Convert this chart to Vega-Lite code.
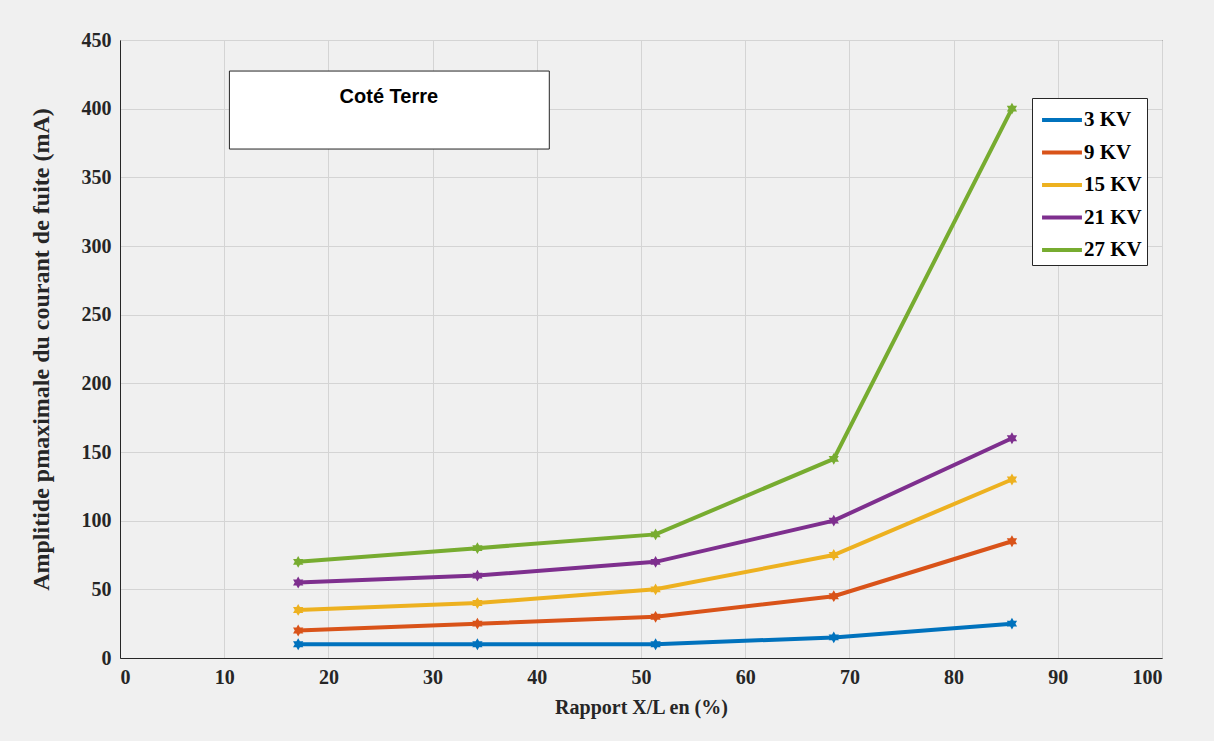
{
  "$schema": "https://vega.github.io/schema/vega-lite/v6.json",
  "width": 1042,
  "height": 618,
  "autosize": {"type": "none"},
  "padding": {"left": 120, "top": 40, "right": 52, "bottom": 83},
  "background": "#f0f0f0",
  "config": {
    "view": {"stroke": "#262626", "strokeWidth": 1, "fill": "#f0f0f0"},
    "axis": {
      "labelFont": "Liberation Serif", "labelFontWeight": "bold", "labelFontSize": 20, "labelColor": "#262626",
      "titleFont": "Liberation Serif", "titleFontWeight": "bold", "titleFontSize": 20, "titleColor": "#262626",
      "gridColor": "#d4d4d4", "gridWidth": 1, "domainColor": "#262626",
      "ticks": false, "labelPadding": 9
    }
  },
  "layer": [
    {
      "data": {"values": [
        {"x": 17.1, "y": 10, "s": "3 KV"}, {"x": 34.3, "y": 10, "s": "3 KV"}, {"x": 51.4, "y": 10, "s": "3 KV"}, {"x": 68.5, "y": 15, "s": "3 KV"}, {"x": 85.6, "y": 25, "s": "3 KV"},
        {"x": 17.1, "y": 20, "s": "9 KV"}, {"x": 34.3, "y": 25, "s": "9 KV"}, {"x": 51.4, "y": 30, "s": "9 KV"}, {"x": 68.5, "y": 45, "s": "9 KV"}, {"x": 85.6, "y": 85, "s": "9 KV"},
        {"x": 17.1, "y": 35, "s": "15 KV"}, {"x": 34.3, "y": 40, "s": "15 KV"}, {"x": 51.4, "y": 50, "s": "15 KV"}, {"x": 68.5, "y": 75, "s": "15 KV"}, {"x": 85.6, "y": 130, "s": "15 KV"},
        {"x": 17.1, "y": 55, "s": "21 KV"}, {"x": 34.3, "y": 60, "s": "21 KV"}, {"x": 51.4, "y": 70, "s": "21 KV"}, {"x": 68.5, "y": 100, "s": "21 KV"}, {"x": 85.6, "y": 160, "s": "21 KV"},
        {"x": 17.1, "y": 70, "s": "27 KV"}, {"x": 34.3, "y": 80, "s": "27 KV"}, {"x": 51.4, "y": 90, "s": "27 KV"}, {"x": 68.5, "y": 145, "s": "27 KV"}, {"x": 85.6, "y": 400, "s": "27 KV"}
      ]},
      "mark": {"type": "line", "strokeWidth": 4, "point": {"shape": "M0,-1L0.29,-0.5L0.87,-0.5L0.58,0L0.87,0.5L0.29,0.5L0,1L-0.29,0.5L-0.87,0.5L-0.58,0L-0.87,-0.5L-0.29,-0.5Z", "size": 140, "filled": true}},
      "encoding": {
        "x": {"field": "x", "type": "quantitative", "scale": {"domain": [0, 100], "nice": false},
              "axis": {"title": "Rapport X/L en (%)", "values": [0,10,20,30,40,50,60,70,80,90,100], "titlePadding": 10}},
        "y": {"field": "y", "type": "quantitative", "scale": {"domain": [0, 450], "nice": false},
              "axis": {"title": "Amplitide pmaximale du courant de fuite (mA)", "titleFontSize": 24, "values": [0,50,100,150,200,250,300,350,400,450], "titlePadding": 28}},
        "color": {"field": "s", "type": "nominal", "sort": ["3 KV", "9 KV", "15 KV", "21 KV", "27 KV"],
          "scale": {"domain": ["3 KV", "9 KV", "15 KV", "21 KV", "27 KV"], "range": ["#0072BD", "#D95319", "#EDB120", "#7E2F8E", "#77AC30"]},
          "legend": {"title": null, "orient": "none", "legendX": 912, "legendY": 58, "padding": 5,
            "fillColor": "white", "strokeColor": "#262626", "labelFont": "Liberation Serif", "labelFontWeight": "bold",
            "labelFontSize": 21, "labelColor": "#000000", "labelOffset": 5, "symbolOffset": 8,
            "symbolType": "M-1.33,0H1.33", "symbolStrokeWidth": 4, "symbolSize": 900, "rowPadding": 5.5}}
      }
    },
    {
      "data": {"values": [{"x1": 10.5, "x2": 41.2, "y1": 370.6, "y2": 427.4, "label": "Coté Terre", "tx": 25.8, "ty": 408.5}]},
      "layer": [
        {"mark": {"type": "rect", "fill": "white", "stroke": "#262626", "strokeWidth": 1},
         "encoding": {"x": {"field": "x1", "type": "quantitative"}, "x2": {"field": "x2"}, "y": {"field": "y1", "type": "quantitative"}, "y2": {"field": "y2"}}},
        {"mark": {"type": "text", "font": "Liberation Sans", "fontWeight": "bold", "fontSize": 20, "color": "#000000"},
         "encoding": {"x": {"field": "tx", "type": "quantitative"}, "y": {"field": "ty", "type": "quantitative"}, "text": {"field": "label"}}}
      ]
    }
  ]
}
